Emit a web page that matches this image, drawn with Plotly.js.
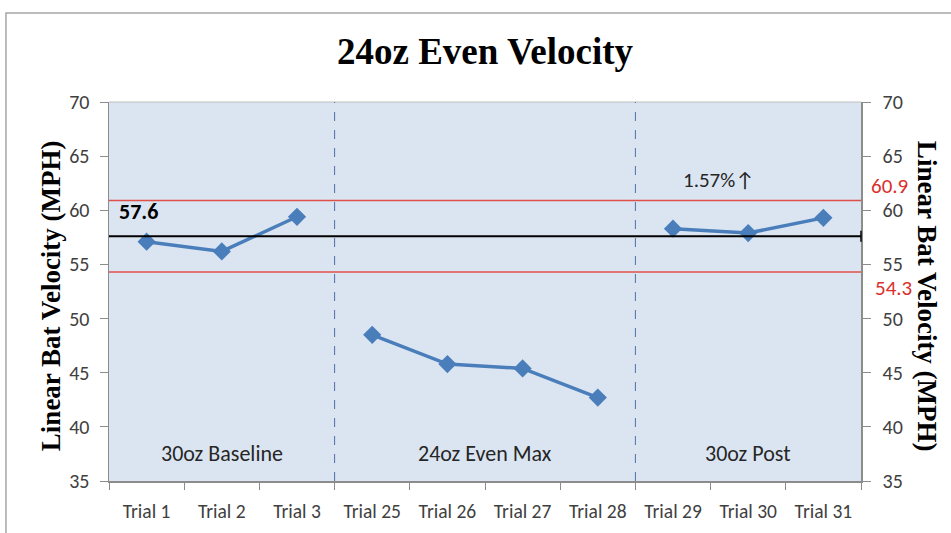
<!DOCTYPE html>
<html>
<head>
<meta charset="utf-8">
<script src="https://cdn.plot.ly/plotly-3.0.1.min.js"></script>
<style>html,body{margin:0;padding:0;background:#fff;}#chart{width:951px;height:533px;}</style>
</head>
<body>
<div id="chart"></div>
<script>
// Data
const categories = ["Trial 1","Trial 2","Trial 3","Trial 25","Trial 26","Trial 27","Trial 28","Trial 29","Trial 30","Trial 31"];
const baselineTrials = ["Trial 1","Trial 2","Trial 3"];
const baselineValues = [57.1, 56.2, 59.4];
const maxTrials = ["Trial 25","Trial 26","Trial 27","Trial 28"];
const maxValues = [48.5, 45.8, 45.4, 42.7];
const postTrials = ["Trial 29","Trial 30","Trial 31"];
const postValues = [58.3, 57.9, 59.3];
const baselineMean = 57.6;
const upperBand = 60.9;
const lowerBand = 54.3;
const phaseLabels = ["30oz Baseline","24oz Even Max","30oz Post"];
const phaseCenters = [1, 4.5, 8];
const phaseBoundaries = [2.5, 6.5];
const changeLabel = "1.57%↑";
const yTicks = [35,40,45,50,55,60,65,70];
const axisTitle = "Linear Bat Velocity (MPH)";

const lineStyle = {color:'#4A7EBB', width:3.5};
const markerStyle = {symbol:'diamond', size:14, color:'#4A7EBB'};
const mk = (x,y) => ({x:x, y:y, type:'scatter', mode:'lines+markers', line:lineStyle, marker:markerStyle, hoverinfo:'skip', showlegend:false, cliponaxis:false});

const traces = [
  mk(baselineTrials, baselineValues),
  mk(maxTrials, maxValues),
  mk(postTrials, postValues),
  {x:[categories[0]], y:[baselineMean], yaxis:'y2', type:'scatter', mode:'markers', marker:{opacity:0}, showlegend:false, hoverinfo:'skip'}
];

const fam = 'Calibri, Carlito, Lato, sans-serif';
const tickFont = {family:fam, size:20, color:'#404040'};
const titleFont = {family:'"Times New Roman", "Liberation Serif", serif', size:27, color:'#000'};

const shapes = [
  {type:'rect', xref:'paper', yref:'paper', x0:-0.137, x1:1.3, y0:-0.3, y1:1.235, line:{color:'#A6A6A6', width:1.5}, fillcolor:'rgba(0,0,0,0)', layer:'below'},
  {type:'line', xref:'paper', yref:'y', x0:0, x1:1, y0:upperBand, y1:upperBand, line:{color:'#E0504A', width:1.5}},
  {type:'line', xref:'paper', yref:'y', x0:0, x1:1, y0:lowerBand, y1:lowerBand, line:{color:'#E0504A', width:1.5}},
  {type:'line', xref:'paper', yref:'y', x0:0, x1:1, y0:baselineMean, y1:baselineMean, line:{color:'#000', width:2.2}},
  {type:'line', xref:'paper', yref:'y', x0:1, x1:1, y0:baselineMean-0.5, y1:baselineMean+0.5, line:{color:'#000', width:1.5}},
  {type:'line', xref:'paper', yref:'paper', x0:0, x1:1, y0:1, y1:1, line:{color:'#BFBFBF', width:1}}
];
phaseBoundaries.forEach(b => shapes.push({type:'line', xref:'x', yref:'paper', x0:b, x1:b, y0:0, y1:1, line:{color:'#4F6FA8', width:1, dash:'dash'}}));

const annotations = [
  {xref:'paper', yref:'y', x:0.01, y:baselineMean, xanchor:'left', yanchor:'bottom', yshift:9, text:'<b>'+baselineMean.toFixed(1)+'</b>', showarrow:false, font:{family:fam, size:22, color:'#000'}},
  {xref:'x', yref:'y', x:7.6, y:upperBand, xanchor:'center', yanchor:'bottom', yshift:6, text:changeLabel, showarrow:false, font:{family:fam, size:21, color:'#262626'}},
  {xref:'paper', yref:'y', x:1, y:upperBand, xanchor:'left', yanchor:'bottom', xshift:8, yshift:0, text:upperBand.toFixed(1), showarrow:false, font:{family:fam, size:21, color:'#D9302C'}},
  {xref:'paper', yref:'y', x:1, y:lowerBand, xanchor:'left', yanchor:'top', xshift:12, yshift:-1, text:lowerBand.toFixed(1), showarrow:false, font:{family:fam, size:21, color:'#D9302C'}},
  {xref:'paper', yref:'paper', x:-0.077, y:0.488, xanchor:'center', yanchor:'middle', textangle:-90, text:'<b>'+axisTitle+'</b>', showarrow:false, font:titleFont},
  {xref:'paper', yref:'paper', x:1.088, y:0.488, xanchor:'center', yanchor:'middle', textangle:90, text:'<b>'+axisTitle+'</b>', showarrow:false, font:titleFont}
];
phaseLabels.forEach((t,i) => annotations.push({xref:'x', yref:'paper', x:phaseCenters[i], y:0.072, xanchor:'center', yanchor:'middle', text:t, showarrow:false, font:{family:fam, size:22, color:'#262626'}}));

const layout = {
  width:951, height:533,
  margin:{l:109, r:90, t:102, b:52},
  paper_bgcolor:'#FFFFFF',
  plot_bgcolor:'#DBE5F1',
  showlegend:false,
  title:{text:'<b>24oz Even Velocity</b>', x:0.51, xanchor:'center', y:0.905, yanchor:'middle', font:{family:'"Times New Roman", "Liberation Serif", serif', size:37, color:'#000'}},
  xaxis:{type:'category', categoryorder:'array', categoryarray:categories, range:[-0.5,9.5], showgrid:false, zeroline:false,
    showline:true, linecolor:'#8C8C8C', linewidth:1.5, ticks:'outside', ticklen:7, tickcolor:'#8C8C8C', tickson:'boundaries',
    tickfont:{family:fam, size:19.5, color:'#404040'}, ticklabelstandoff:12, fixedrange:true},
  yaxis:{range:[35,70], tickvals:yTicks, showgrid:false, zeroline:false, showline:true, linecolor:'#8C8C8C', linewidth:1.5,
    ticks:'outside', ticklen:8, tickcolor:'#8C8C8C', tickfont:tickFont, ticklabelstandoff:6},
  yaxis2:{range:[35,70], tickvals:yTicks, overlaying:'y', side:'right', showgrid:false, zeroline:false, showline:true, linecolor:'#8C8C8C', linewidth:1.5,
    ticks:'outside', ticklen:8, tickcolor:'#8C8C8C', tickfont:tickFont, ticklabelstandoff:8},
  shapes:shapes,
  annotations:annotations
};

Plotly.newPlot('chart', traces, layout, {staticPlot:true, displayModeBar:false});
</script>
</body>
</html>
